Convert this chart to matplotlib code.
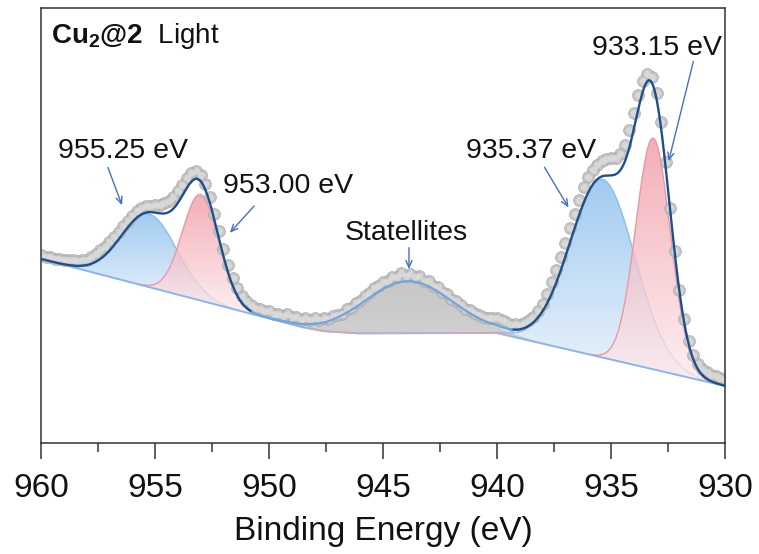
import numpy as np
import matplotlib
matplotlib.use("Agg")
import matplotlib.pyplot as plt
from matplotlib.patches import Polygon
from matplotlib.colors import to_rgb
from matplotlib.ticker import MultipleLocator

plt.rcParams['font.family'] = ['Liberation Sans', 'DejaVu Sans']
plt.rcParams['mathtext.fontset'] = 'custom'
plt.rcParams['mathtext.rm'] = 'Liberation Sans'
plt.rcParams['mathtext.bf'] = 'Liberation Sans:bold'

# ---- measured Cu 2p spectrum (0.2 eV steps, intensity in a.u.) ----
energy = np.round(np.arange(930.0, 960.0001, 0.2), 1)
intensity = [
    62, 64, 66, 67, 70, 73, 78, 87, 101, 123,
    152, 191, 234, 280, 320, 349, 365, 368, 361, 347,
    329, 312, 297, 288, 284, 284, 283, 281, 277, 272,
    265, 255, 242, 228, 214, 199, 185, 172, 160, 148,
    138, 131, 125, 122, 119, 117, 118, 117, 120, 122,
    124, 124, 124, 125, 127, 129, 132, 133, 137, 141,
    143, 148, 150, 155, 156, 161, 161, 166, 165, 168,
    166, 169, 165, 165, 161, 160, 156, 154, 149, 146,
    141, 139, 134, 133, 128, 127, 126, 123, 124, 122,
    124, 122, 124, 122, 125, 125, 128, 126, 128, 128,
    131, 131, 133, 134, 137, 141, 146, 154, 164, 177,
    193, 211, 228, 245, 258, 267, 271, 269, 264, 257,
    251, 245, 241, 239, 237, 237, 236, 236, 234, 231,
    226, 221, 216, 210, 205, 200, 195, 192, 188, 185,
    182, 182, 181, 182, 182, 182, 183, 183, 185, 185,
    187,
]

# ---- background (anchor points of the subtracted baseline) ----
bg_energy = [930.0, 940.0, 946.0, 947.5, 948.5, 950.5, 960.0]
bg_level = [56.5, 109.5, 109.0, 111.0, 115.0, 127.0, 183.5]

# ---- fitted components ----
peak_kind = ['pink', 'blue', 'grey', 'pink', 'blue']
peak_center = [933.15, 935.37, 943.90, 953.00, 955.25]
peak_height = [231.0, 178.0, 52.0, 106.0, 73.0]
peak_fwhm = [1.79, 3.34, 4.59, 1.88, 2.87]

label_text = ['933.15 eV', '935.37 eV', 'Statellites', '953.00 eV', '955.25 eV']

fig = plt.figure(figsize=(7.59, 5.54), dpi=100)
ax = fig.add_axes([41 / 759, 1 - 442.5 / 554, 684 / 759, 434.2 / 554])

e_fit = np.linspace(930.0, 960.0, 1501)
bg = np.interp(e_fit, bg_energy, bg_level)


def gauss(x, c, h, fwhm):
    s = fwhm / 2.3548
    return h * np.exp(-(x - c) ** 2 / (2 * s * s))


comps = [gauss(e_fit, c, h, w) for c, h, w in zip(peak_center, peak_height, peak_fwhm)]
envelope = bg + np.sum(comps, axis=0)

styles = {
    'blue': dict(top='#98c6f0', bot='#edf4fc', edge='#8dbde8', alpha=0.92, z=1.0),
    'pink': dict(top='#f198a4', bot='#fcecee', edge='#e79aa6', alpha=0.78, z=1.2),
    'grey': dict(top='#c4c4c4', bot='#d0d0d0', edge='#6ea6dc', alpha=0.95, z=1.0),
}


def gradient_fill(x, lower, upper, st):
    verts = np.column_stack([np.r_[x, x[::-1]], np.r_[upper, lower[::-1]]])
    poly = Polygon(verts, closed=True, facecolor='none', edgecolor='none')
    ax.add_patch(poly)
    n = 256
    t = np.linspace(0, 1, n)[:, None]
    top = np.array(to_rgb(st['top']))
    bot = np.array(to_rgb(st['bot']))
    img = np.zeros((n, 1, 4))
    img[:, 0, :3] = bot + (top - bot) * t
    img[:, 0, 3] = st['alpha']
    im = ax.imshow(img, extent=(x.min(), x.max(), lower.min(), upper.max()),
                   origin='lower', aspect='auto', interpolation='bilinear',
                   zorder=st['z'])
    im.set_clip_path(poly)


# draw blue/grey first, pink on top
order = sorted(range(len(comps)), key=lambda i: styles[peak_kind[i]]['z'])
for i in order:
    st = styles[peak_kind[i]]
    m = comps[i] > 0.3
    x = e_fit[m]
    lo = bg[m]
    up = bg[m] + comps[i][m]
    gradient_fill(x, lo, up, st)
    if peak_kind[i] != 'grey':
        ax.plot(x, up, color=st['edge'], lw=1.0, zorder=st['z'] + 0.05)

# baseline
ax.plot(e_fit, bg, color='#8fb4e3', lw=1.4, zorder=1.5)
sat_m = (e_fit > 939.4) & (e_fit < 948.2)
ax.plot(e_fit[sat_m], bg[sat_m], color='#d6a9b6', lw=1.2, zorder=1.55)

# experimental points drawn as shaded beads
ax.plot(energy, intensity, ls='none', marker='o', ms=8.6, mfc='#c0c0c0',
        mec='#a8a8a8', mew=0.5, alpha=0.9, zorder=2)
ax.plot(energy, intensity, ls='none', marker='o', ms=5.0, mfc='#dcdcdc',
        mec='none', alpha=0.85, zorder=2.1)

# cumulative fit
mid = (e_fit > 939.35) & (e_fit < 950.75)
ax.plot(e_fit, np.where(mid, np.nan, envelope), color='#1f4f8b', lw=1.7, zorder=3)
ax.plot(e_fit[mid], envelope[mid], color='#6ea6dc', lw=1.6, zorder=3)

# peak labels and arrows
arrow_kw = dict(arrowstyle='->,head_length=0.5,head_width=0.22', color='#4a6fc0', lw=1.0)
txt_kw = dict(fontsize=20.5, color='#111111', va='baseline')
ax.text(935.83, 387.5, label_text[0], ha='left', **txt_kw)
ax.annotate('', xy=(932.50, 278.5), xytext=(931.36, 383.5), arrowprops=arrow_kw)
ax.text(941.36, 284.5, label_text[1], ha='left', **txt_kw)
ax.annotate('', xy=(936.80, 232.5), xytext=(937.98, 277.5), arrowprops=arrow_kw)
ax.text(943.99, 202.5, label_text[2], ha='center', **txt_kw)
ax.annotate('', xy=(943.86, 170.5), xytext=(943.86, 197.5), arrowprops=arrow_kw)
ax.text(952.02, 249.5, label_text[3], ha='left', **txt_kw)
ax.annotate('', xy=(951.80, 207.5), xytext=(950.57, 238.5), arrowprops=arrow_kw)
ax.text(959.25, 284.5, label_text[4], ha='left', **txt_kw)
ax.annotate('', xy=(956.40, 234.5), xytext=(957.11, 277.5), arrowprops=arrow_kw)

ax.text(0.0142, 0.9208, r'$\mathbf{Cu_2@2}$  Light', transform=ax.transAxes,
        fontsize=20, color='#111111', ha='left', va='baseline')

# axes styling
ax.set_xlim(960, 930)
ax.set_ylim(0, 434)
ax.set_yticks([])
ax.xaxis.set_major_locator(MultipleLocator(5))
ax.xaxis.set_minor_locator(MultipleLocator(2.5))
ax.tick_params(axis='x', which='major', direction='out', length=11.7, width=1.1,
               pad=10, labelsize=24, colors='#333333', labelcolor='#111111')
ax.tick_params(axis='x', which='minor', direction='out', length=6.7, width=1.1,
               colors='#333333')
for sp in ax.spines.values():
    sp.set_color('#333333')
    sp.set_linewidth(1.1)
ax.set_xlabel('Binding Energy (eV)', fontsize=24, color='#111111', labelpad=9)

fig.savefig('out.png', dpi=100)
